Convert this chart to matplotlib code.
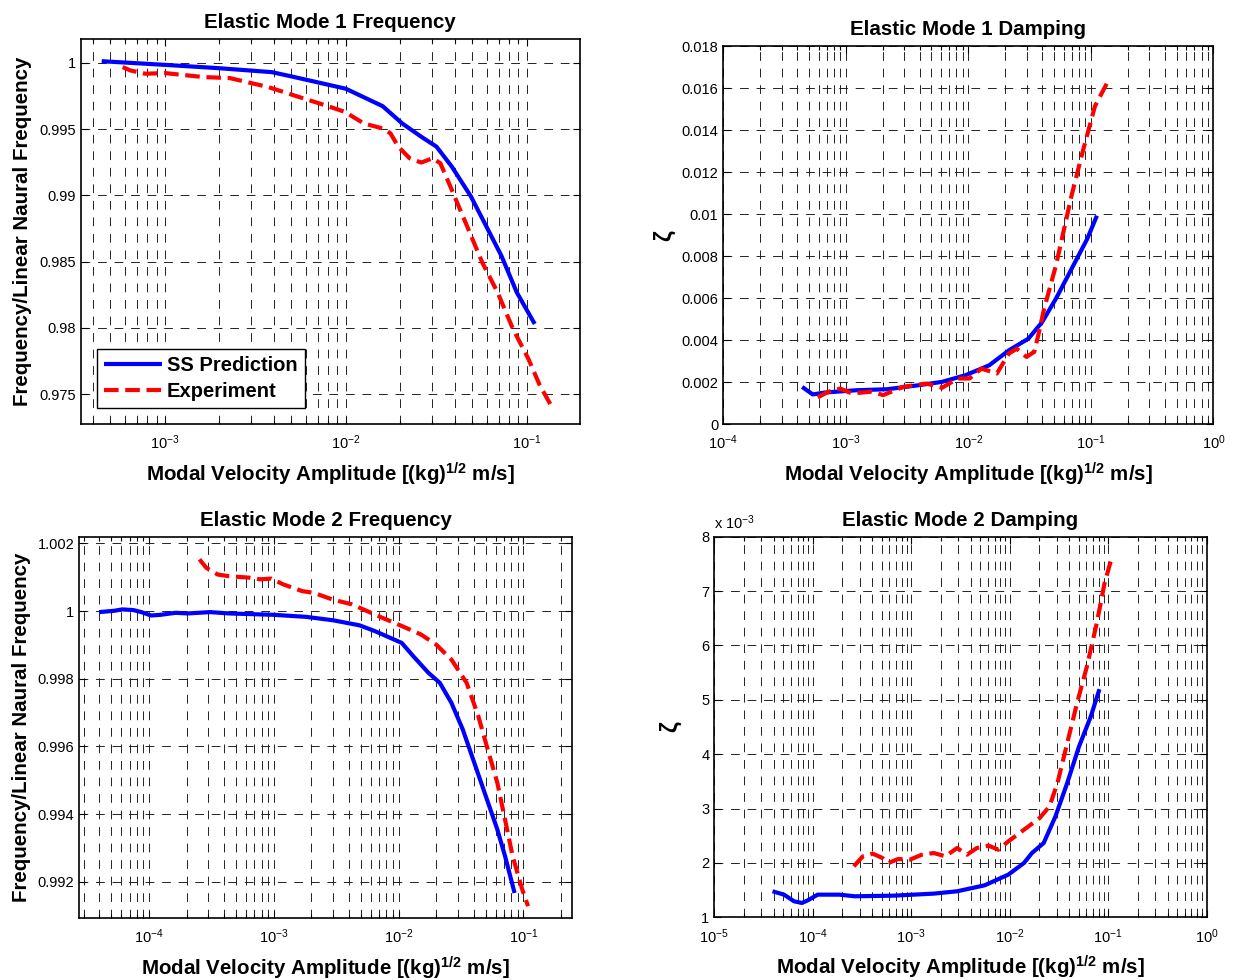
import numpy as np
import matplotlib
matplotlib.use("Agg")
import matplotlib.pyplot as plt
from matplotlib.ticker import FuncFormatter, NullFormatter, LogLocator, FixedLocator

plt.rcParams['font.family'] = ['Liberation Sans', 'DejaVu Sans']
plt.rcParams['mathtext.fontset'] = 'custom'
plt.rcParams['mathtext.rm'] = 'Liberation Sans'
plt.rcParams['mathtext.it'] = 'Liberation Sans:italic'
plt.rcParams['mathtext.bf'] = 'Liberation Sans:bold'

# ---------------- data ----------------
# Mode 1 frequency
m1f_ss_x = [4.48e-4, 1.0e-3, 1.98e-3, 3.9e-3, 5.0e-3, 1.0e-2, 0.016, 0.0205, 0.0261, 0.0317,
            0.0385, 0.0491, 0.0597, 0.0725, 0.0881, 0.1107]
m1f_ss_y = [1.000125, 0.99985, 0.9996, 0.9993, 0.99898, 0.99805, 0.99673, 0.99543, 0.99443, 0.99368,
            0.99218, 0.98993, 0.98768, 0.98543, 0.98268, 0.9803]
m1f_ex_x = [5.85e-4, 6.45e-4, 7.8e-4, 1.0e-3, 1.63e-3, 2.29e-3, 3.72e-3, 5.5e-3, 7.7e-3, 0.0099,
            0.01257, 0.016, 0.01766, 0.0195, 0.02255, 0.0261, 0.0302, 0.0333, 0.0385, 0.0468,
            0.0568, 0.069, 0.0839, 0.102, 0.118, 0.1365]
m1f_ex_y = [0.99968, 0.99943, 0.99918, 0.99923, 0.99893, 0.99885, 0.99818, 0.99743, 0.9968, 0.9963,
            0.99543, 0.99505, 0.99468, 0.99368, 0.9928, 0.99248, 0.9928, 0.99243, 0.99043, 0.98768,
            0.98493, 0.98268, 0.97993, 0.97768, 0.97568, 0.97413]

# Mode 1 damping
m1d_ss_x = [4.4e-4, 5.37e-4, 6.7e-4, 1.21e-3, 2.18e-3, 3.93e-3, 6.1e-3, 9.5e-3, 0.0148, 0.0214,
            0.0309, 0.04, 0.0518, 0.0695, 0.0933, 0.112]
m1d_ss_y = [0.00177, 0.00141, 0.0015, 0.00161, 0.00166, 0.00185, 0.00201, 0.00233, 0.0028, 0.00351,
            0.00407, 0.00486, 0.00597, 0.00739, 0.00882, 0.00993]
m1d_ex_x = [5.9e-4, 7.2e-4, 9.0e-4, 1.12e-3, 1.62e-3, 2.02e-3, 2.92e-3, 4.55e-3, 6.1e-3, 8.2e-3,
            0.0102, 0.01277, 0.0171, 0.0214, 0.0248, 0.0298, 0.0345, 0.0372, 0.0415, 0.0518,
            0.0695, 0.0867, 0.108, 0.138]
m1d_ex_y = [0.00127, 0.00154, 0.00169, 0.00146, 0.00154, 0.00138, 0.00177, 0.00193, 0.00173, 0.00217,
            0.00217, 0.00264, 0.00241, 0.00336, 0.00359, 0.0032, 0.00344, 0.00423, 0.00549, 0.00755,
            0.01088, 0.01309, 0.01515, 0.01634]

# Mode 2 frequency
m2f_ss_x = [3.99e-5, 5.3e-5, 6.1e-5, 7.5e-5, 8.7e-5, 1.04e-4, 1.24e-4, 1.64e-4, 2.03e-4, 3.1e-4,
            4.4e-4, 1.0e-3, 1.81e-3, 2.97e-3, 4.86e-3, 6.45e-3, 7.98e-3, 0.0106, 0.0131, 0.0173,
            0.0214, 0.0265, 0.0327, 0.0404, 0.05, 0.0618, 0.0713, 0.085]
m2f_ss_y = [0.99997, 1.00001, 1.00005, 1.00003, 0.99997, 0.99987, 0.99989, 0.99995, 0.99993, 0.99997,
            0.99993, 0.99989, 0.99983, 0.99973, 0.99958, 0.99941, 0.99926, 0.99906, 0.99867, 0.99818,
            0.99788, 0.99729, 0.9965, 0.99552, 0.99453, 0.99355, 0.99276, 0.99167]
m2f_ex_x = [2.54e-4, 2.88e-4, 3.56e-4, 4.4e-4, 6.28e-4, 7.76e-4, 9.6e-4, 1.19e-3, 1.69e-3, 2.09e-3,
            2.97e-3, 4.22e-3, 5.6e-3, 7.43e-3, 0.0106, 0.0151, 0.02, 0.0265, 0.0351, 0.0435,
            0.05, 0.0618, 0.0713, 0.082, 0.098, 0.109]
m2f_ex_y = [1.00153, 1.00128, 1.00108, 1.00103, 1.00099, 1.00094, 1.00096, 1.00079, 1.00059, 1.00054,
            1.00034, 1.0002, 1.0, 0.9998, 0.99956, 0.99931, 0.99901, 0.99857, 0.99788, 0.9969,
            0.99611, 0.99493, 0.99384, 0.99276, 0.99177, 0.99128]

# Mode 2 damping (values in units of 1e-3)
m2d_ss_x = [3.9e-5, 5.1e-5, 6.45e-5, 7.76e-5, 8.9e-5, 1.12e-4, 1.86e-4, 2.68e-4, 6.73e-4, 1.69e-3,
            2.92e-3, 5.56e-3, 9.66e-3, 0.01394, 0.01676, 0.0221, 0.0291, 0.0383, 0.0505, 0.0665, 0.0814]
m2d_ss_y = [1.478, 1.416, 1.294, 1.263, 1.312, 1.416, 1.416, 1.386, 1.398, 1.435,
            1.478, 1.588, 1.784, 1.998, 2.18, 2.366, 2.855, 3.468, 4.141, 4.693, 5.195]
m2d_ex_x = [2.61e-4, 3.22e-4, 4.06e-4, 5.1e-4, 5.86e-4, 7.37e-4, 9.7e-4, 1.28e-3, 1.69e-3, 2.22e-3,
            2.92e-3, 3.68e-3, 4.63e-3, 6.1e-3, 7.67e-3, 9.66e-3, 0.01394, 0.0201, 0.0253, 0.0305,
            0.0383, 0.0482, 0.0607, 0.0764, 0.0917, 0.108]
m2d_ex_y = [1.937, 2.121, 2.17, 2.09, 1.998, 2.072, 2.06, 2.151, 2.182, 2.121,
            2.274, 2.151, 2.274, 2.317, 2.243, 2.396, 2.61, 2.825, 3.039, 3.468,
            4.203, 4.938, 5.611, 6.407, 7.142, 7.601]

titles = ["Elastic Mode 1 Frequency", "Elastic Mode 1 Damping",
          "Elastic Mode 2 Frequency", "Elastic Mode 2 Damping"]
legend_labels = ["SS Prediction", "Experiment"]
xlabel = r"Modal Velocity Amplitude [(kg)$^{\mathbf{1/2}}$ m/s]"
freq_ylabel = "Frequency/Linear Naural Frequency"

# ---------------- figure ----------------
fig = plt.figure(figsize=(12.35, 9.8), dpi=100)
positions = [
    [0.0653, 0.5673, 0.4043, 0.3929],
    [0.5857, 0.5673, 0.3968, 0.3854],
    [0.0642, 0.0636, 0.3987, 0.3888],
    [0.5784, 0.0640, 0.3987, 0.3884],
]
axes = [fig.add_axes(p) for p in positions]

BLUE = '#0000ff'
RED = '#ff0000'
LW = 3.0
LABEL_FS = 14.8
gfmt = FuncFormatter(lambda v, p: ('%g' % round(v, 6)))


def style(ax):
    ax.set_xscale('log')
    ax.xaxis.set_major_locator(LogLocator(base=10, numticks=12))
    ax.xaxis.set_minor_locator(LogLocator(base=10, subs=np.arange(2, 10), numticks=12))
    ax.xaxis.set_minor_formatter(NullFormatter())
    ax.grid(True, which='both', axis='x', linestyle=(0, (9, 8)), color='#222222', lw=0.7)
    ax.grid(True, which='major', axis='y', linestyle=(0, (9, 8)), color='#222222', lw=0.7)
    ax.tick_params(which='both', direction='in', top=True, right=True, labelsize=10.5,
                   width=0.8, colors='black')
    ax.tick_params(which='major', length=5)
    ax.tick_params(which='minor', length=3)
    ax.tick_params(axis='x', which='major', pad=7)
    for s in ax.spines.values():
        s.set_linewidth(1.2)
    ax.set_xlabel(xlabel, fontsize=LABEL_FS, fontweight='bold', labelpad=6)


def plot_pair(ax, sx, sy, ex, ey):
    ax.plot(sx, sy, color=BLUE, lw=LW, solid_capstyle='butt', label=legend_labels[0])
    ax.plot(ex, ey, color=RED, lw=LW, linestyle=(0, (3.5, 1.6)), dash_capstyle='butt',
            label=legend_labels[1])


# Top-left
ax = axes[0]
style(ax)
plot_pair(ax, m1f_ss_x, m1f_ss_y, m1f_ex_x, m1f_ex_y)
ax.set_xlim(10 ** -3.465, 10 ** -0.706)
ax.set_ylim(0.97275, 1.0018)
ax.yaxis.set_major_locator(FixedLocator([0.975, 0.98, 0.985, 0.99, 0.995, 1.0]))
ax.yaxis.set_major_formatter(gfmt)
ax.set_title(titles[0], fontsize=LABEL_FS, fontweight='bold', pad=8)
ax.set_ylabel(freq_ylabel, fontsize=LABEL_FS, fontweight='bold', labelpad=5)
leg = ax.legend(loc='lower left', bbox_to_anchor=(0.032, 0.041), borderaxespad=0,
                prop={'weight': 'bold', 'size': 14.5}, handlelength=2.9, handletextpad=0.25,
                fancybox=False, edgecolor='black', framealpha=1, borderpad=0.35,
                labelspacing=0.35)
leg.get_frame().set_linewidth(1.0)

# Top-right
ax = axes[1]
style(ax)
plot_pair(ax, m1d_ss_x, m1d_ss_y, m1d_ex_x, m1d_ex_y)
ax.set_xlim(1e-4, 1e0)
ax.set_ylim(0, 0.018)
ax.yaxis.set_major_locator(FixedLocator(np.arange(0, 0.0181, 0.002)))
ax.yaxis.set_major_formatter(gfmt)
ax.set_title(titles[1], fontsize=LABEL_FS, fontweight='bold', pad=8)
ax.set_ylabel('ζ', fontsize=17, fontweight='bold', labelpad=4)

# Bottom-left
ax = axes[2]
style(ax)
plot_pair(ax, m2f_ss_x, m2f_ss_y, m2f_ex_x, m2f_ex_y)
ax.set_xlim(10 ** -4.558, 10 ** -0.613)
ax.set_ylim(0.99094, 1.0022)
ax.yaxis.set_major_locator(FixedLocator([0.992, 0.994, 0.996, 0.998, 1.0, 1.002]))
ax.yaxis.set_major_formatter(gfmt)
ax.set_title(titles[2], fontsize=LABEL_FS, fontweight='bold', pad=8)
ax.set_ylabel(freq_ylabel, fontsize=LABEL_FS, fontweight='bold', labelpad=5)

# Bottom-right
ax = axes[3]
style(ax)
plot_pair(ax, m2d_ss_x, m2d_ss_y, m2d_ex_x, m2d_ex_y)
ax.set_xlim(1e-5, 1e0)
ax.set_ylim(1, 8)
ax.yaxis.set_major_locator(FixedLocator(np.arange(1, 8.1, 1)))
ax.yaxis.set_major_formatter(gfmt)
ax.set_title(titles[3], fontsize=LABEL_FS, fontweight='bold', pad=8)
ax.set_ylabel('ζ', fontsize=17, fontweight='bold', labelpad=14)
ax.text(0.0, 1.012, r'x 10$^{-3}$', transform=ax.transAxes, fontsize=10.5,
        ha='left', va='bottom')

fig.savefig('out.png', dpi=100)
